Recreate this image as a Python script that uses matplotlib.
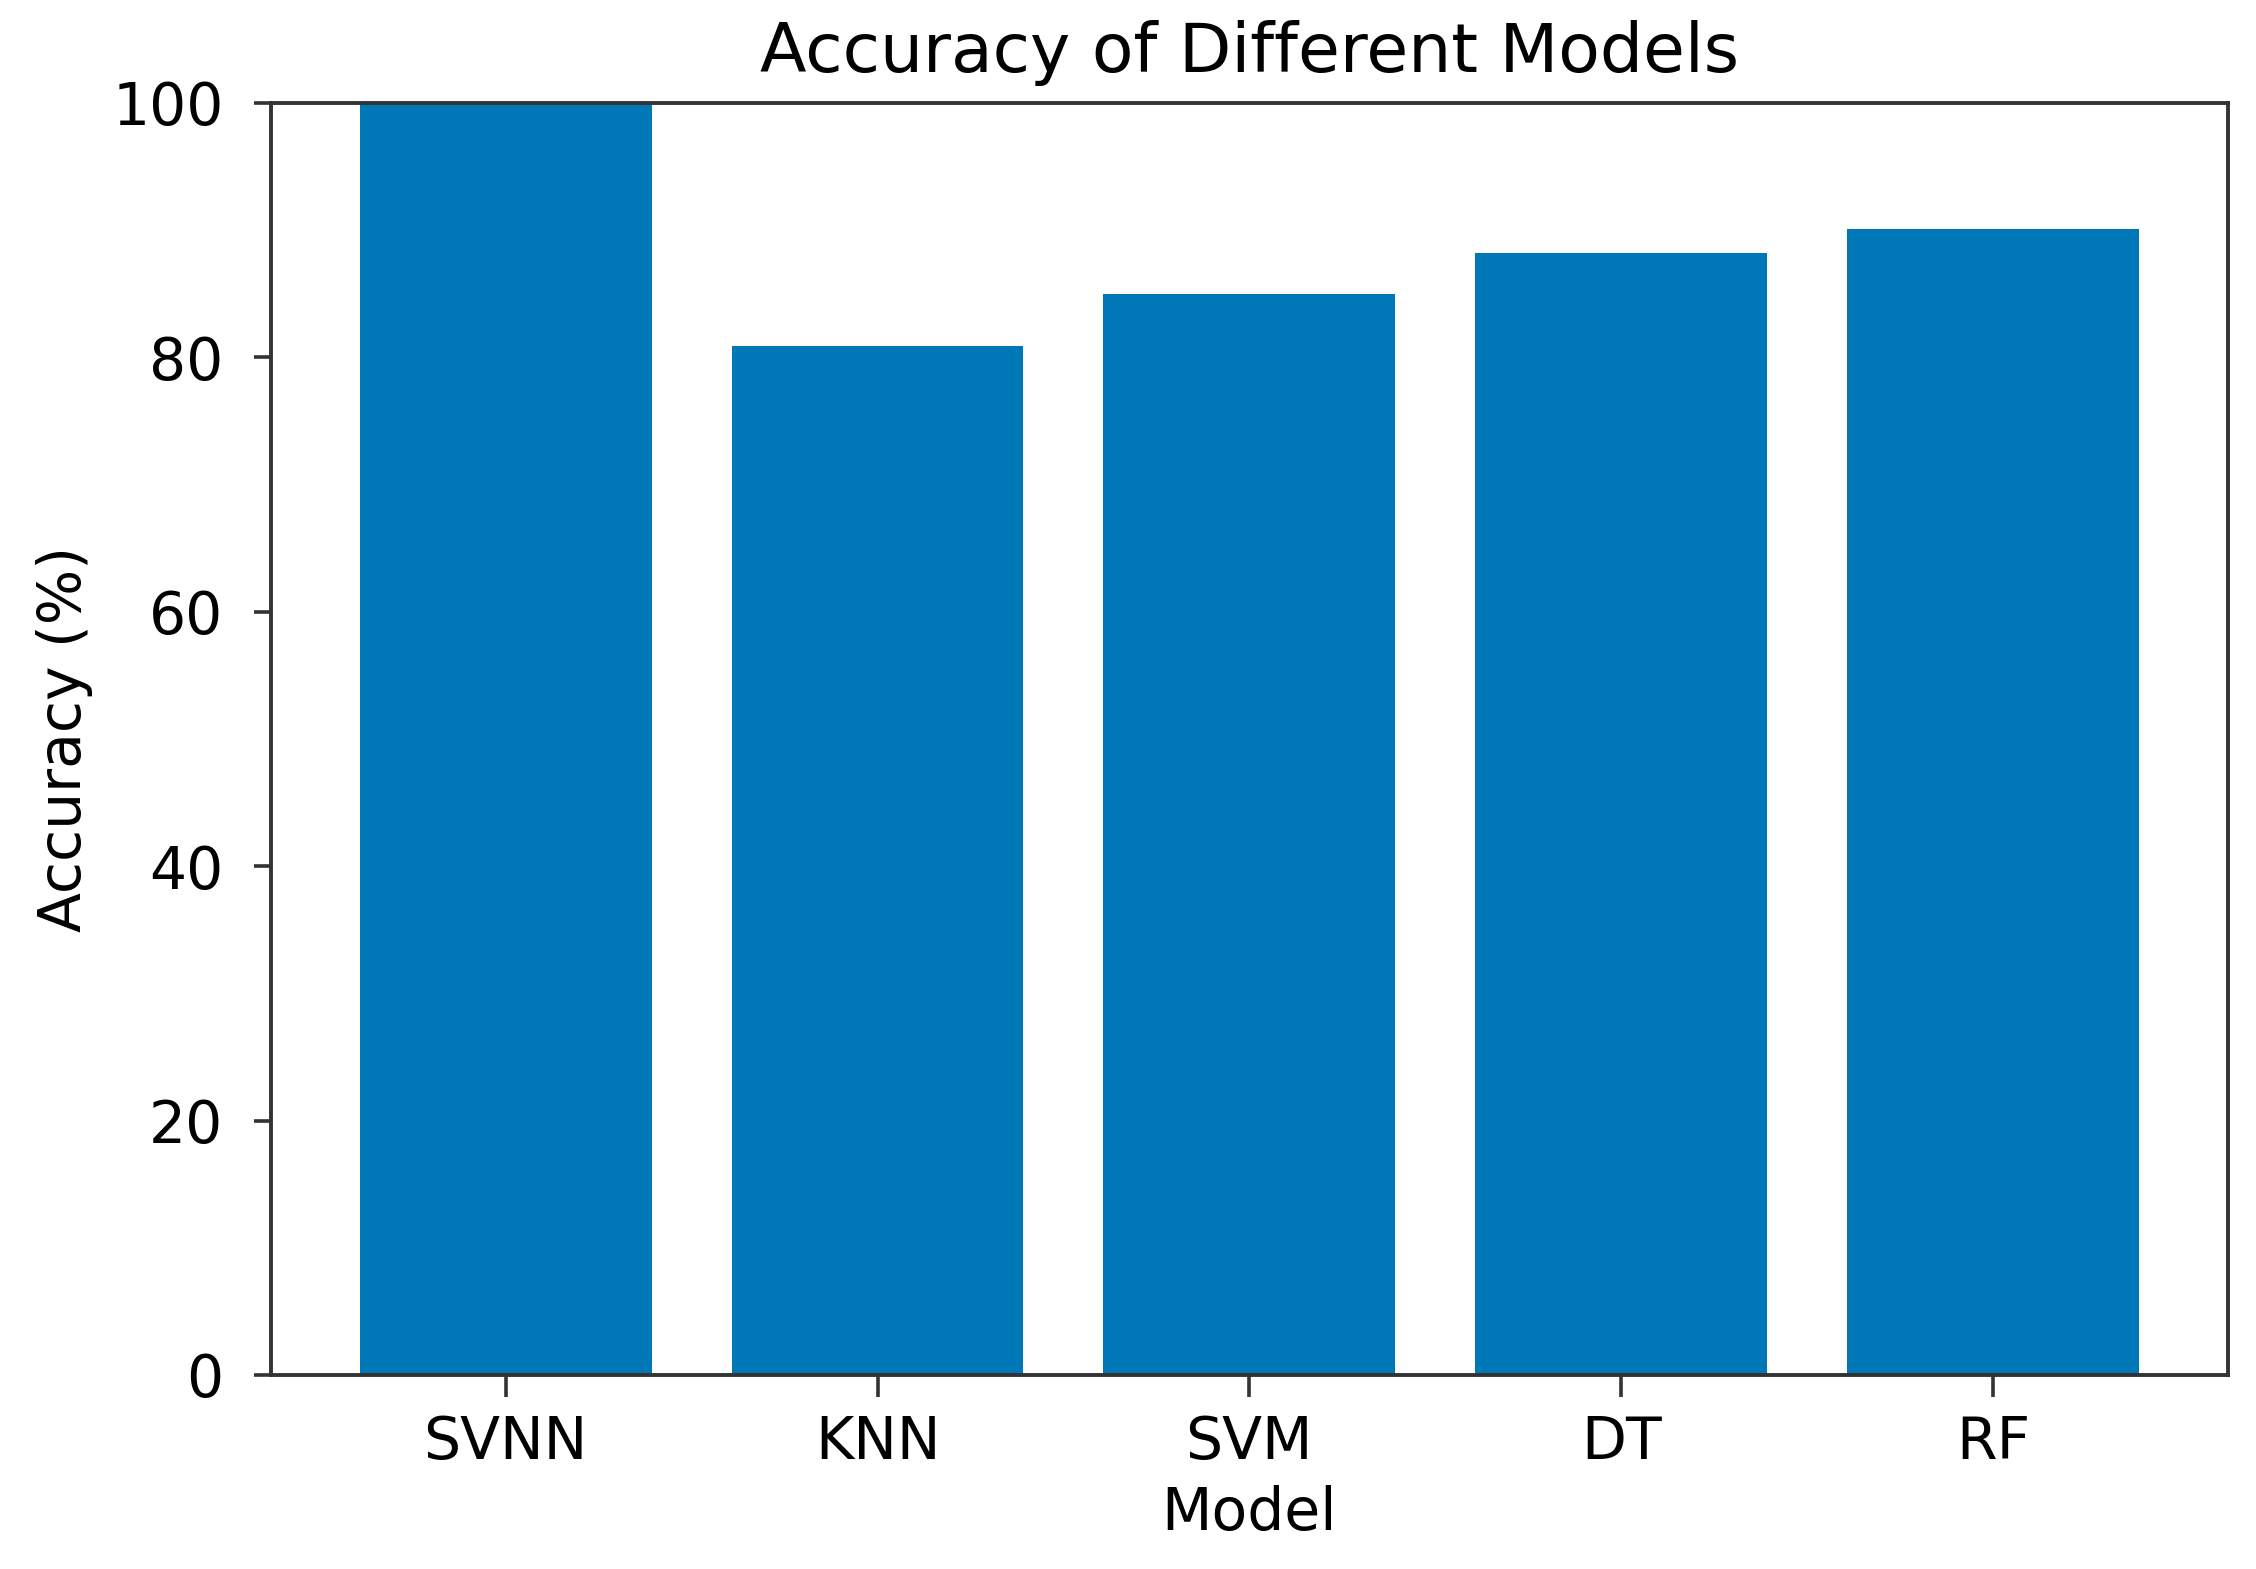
import matplotlib
matplotlib.use("Agg")
import matplotlib.pyplot as plt

# bar values
models = ["SVNN", "KNN", "SVM", "DT", "RF"]
accuracy = [100.0, 80.9, 85.0, 88.2, 90.1]
yticks = [0, 20, 40, 60, 80, 100]

plt.rcParams["font.family"] = ["DejaVu Sans"]

fig = plt.figure(figsize=(22.56, 15.69), dpi=100)
ax = fig.add_axes([0.120, 0.1237, 0.8676, 0.8107])

ax.bar(models, accuracy, width=0.785, color="#0077b6")
ax.set_ylim(0, 100)
ax.set_yticks(yticks)

ax.set_title("Accuracy of Different Models", fontsize=49, pad=22)
ax.set_xlabel("Model", fontsize=42, labelpad=10)
ax.set_ylabel("Accuracy (%)", fontsize=42, labelpad=14)

for s in ax.spines.values():
    s.set_linewidth(2.8)
    s.set_color("#333333")
ax.tick_params(axis="x", labelsize=42, length=16, width=2.6, pad=12, color="#333333")
ax.tick_params(axis="y", labelsize=42, length=12, width=2.6, pad=22, color="#333333")

plt.savefig("out.png", dpi=100)
plt.close()
